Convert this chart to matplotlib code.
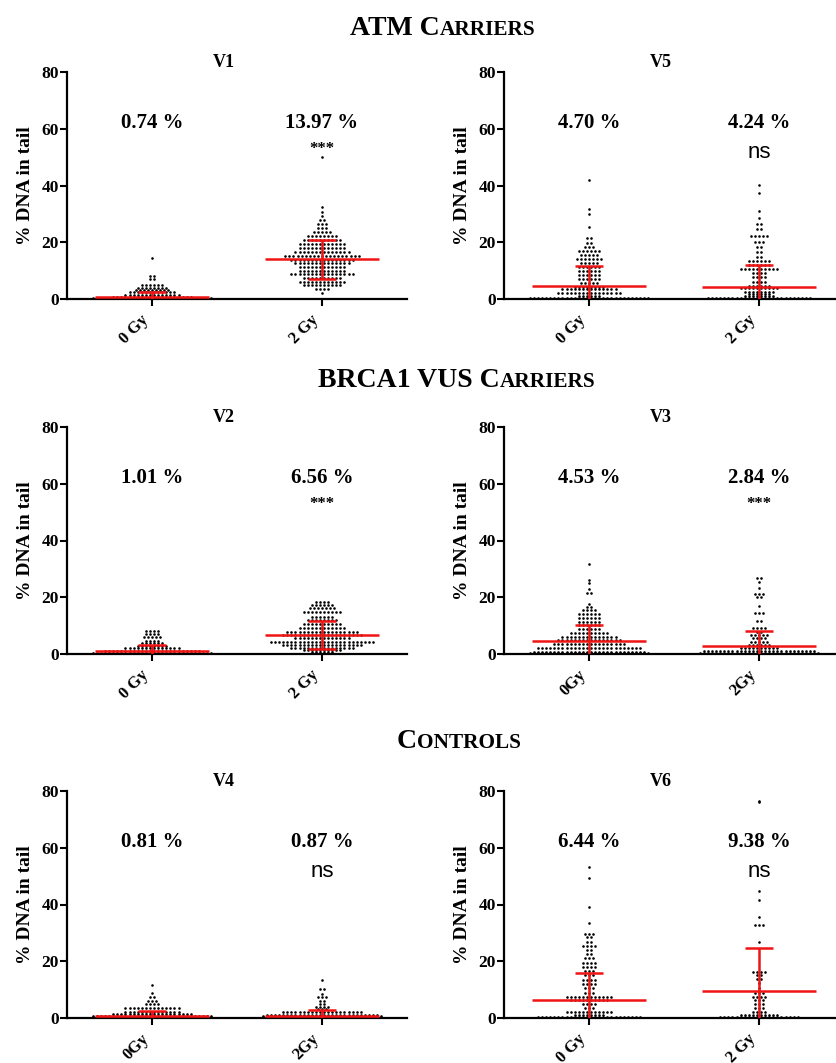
import matplotlib
matplotlib.use("Agg")
import matplotlib.pyplot as plt
from matplotlib.transforms import ScaledTranslation
import numpy as np

# dot rows: level (% DNA in tail) and number of dots in that row
v1_0_lvl = [0.2, 0.8, 1.5, 2.3, 3.2, 4.0, 5.0, 7.0, 8.0, 14.3]
v1_0_n = [30, 20, 14, 12, 9, 8, 6, 2, 2, 1]
v1_2_lvl = [2.2, 3.5, 4.9, 6.1, 7.3, 8.7, 10.0, 11.2, 12.6, 13.9, 15.3, 16.7, 18.1,
            19.4, 20.8, 22.2, 23.5, 24.9, 26.3, 27.9, 29.3, 30.8, 32.5, 49.9]
v1_2_n = [1, 4, 10, 12, 10, 16, 12, 12, 14, 16, 19, 14, 12, 12, 10, 8, 5, 3, 3, 2, 1, 1, 1, 1]

v5_0_lvl = [0.3, 1.1, 2.2, 3.4, 4.3, 5.5, 6.9, 8.4, 9.8, 11.2, 12.6, 14.0, 15.5, 17.0,
            18.4, 19.8, 21.4, 25.5, 29.9, 31.6, 41.9]
v5_0_n = [30, 6, 16, 14, 8, 5, 6, 6, 6, 6, 5, 7, 5, 6, 3, 2, 2, 1, 1, 1, 1]
v5_2_lvl = [0.3, 1.1, 1.8, 2.6, 3.8, 4.7, 6.1, 7.7, 9.1, 10.6, 12.0, 13.4, 14.9, 16.7,
            18.4, 20.2, 22.2, 24.5, 26.4, 28.4, 31.0, 37.5, 40.2]
v5_2_n = [26, 8, 6, 8, 10, 6, 4, 4, 4, 10, 6, 6, 2, 2, 2, 3, 5, 2, 2, 1, 1, 1, 1]

v2_0_lvl = [0.3, 1.0, 2.0, 2.8, 3.8, 4.7, 5.9, 7.0, 8.2]
v2_0_n = [30, 24, 14, 8, 6, 4, 5, 4, 4]
v2_2_lvl = [0.7, 1.4, 2.2, 3.2, 4.3, 5.5, 6.7, 7.7, 9.0, 10.5, 12.0, 13.2, 14.7, 16.1, 17.3, 18.4]
v2_2_n = [6, 10, 16, 20, 26, 14, 20, 18, 12, 10, 8, 6, 10, 7, 6, 4]

v3_0_lvl = [0.2, 0.7, 2.0, 3.4, 4.8, 6.1, 7.5, 8.7, 10.1, 11.4, 12.8, 14.0, 15.4, 16.6,
            17.7, 21.6, 23.0, 25.1, 26.1, 31.6]
v3_0_n = [30, 28, 26, 18, 16, 14, 10, 6, 6, 6, 6, 6, 4, 2, 1, 2, 1, 1, 1, 1]
v3_2_lvl = [0.3, 1.1, 2.2, 3.2, 4.3, 5.5, 6.7, 7.9, 9.1, 11.6, 14.6, 16.9, 20.1, 21.3,
            23.4, 25.5, 26.7]
v3_2_n = [30, 28, 10, 6, 5, 4, 5, 2, 4, 2, 3, 1, 2, 3, 1, 1, 2]

v4_0_lvl = [0.2, 0.6, 1.3, 2.2, 3.5, 4.8, 6.0, 7.3, 8.7, 11.6]
v4_0_n = [30, 30, 20, 14, 14, 4, 3, 2, 1, 1]
v4_2_lvl = [0.2, 0.6, 1.2, 2.0, 3.1, 4.0, 4.9, 6.1, 7.3, 8.5, 10.1, 13.4]
v4_2_n = [30, 30, 28, 20, 3, 4, 2, 2, 3, 1, 2, 1]

v6_0_lvl = [0.3, 1.1, 2.2, 3.4, 4.9, 6.3, 7.5, 8.9, 10.5, 12.0, 13.4, 15.2, 16.7, 18.1,
            19.5, 21.0, 22.6, 24.0, 25.5, 26.9, 28.4, 29.6, 33.6, 39.0, 49.2, 53.3]
v6_0_n = [26, 8, 12, 3, 4, 10, 12, 3, 3, 4, 4, 3, 3, 4, 4, 3, 2, 2, 4, 2, 2, 3, 1, 1, 1, 1]
v6_2_lvl = [0.3, 1.1, 2.0, 3.4, 4.9, 6.3, 7.5, 8.7, 10.5, 12.2, 13.7, 15.2, 16.3, 26.9,
            32.8, 35.7, 41.6, 44.9, 76.0, 76.5]
v6_2_n = [20, 10, 4, 3, 3, 3, 4, 3, 1, 1, 2, 2, 4, 1, 3, 1, 1, 1, 1, 1]

# mean and SD (red bars) per panel, plus significance label on 2 Gy
v1_mean, v1_sd, v1_sig = [0.74, 13.97], [1.86, 6.83], "***"
v5_mean, v5_sd, v5_sig = [4.70, 4.24], [6.90, 7.76], "ns"
v2_mean, v2_sd, v2_sig = [1.01, 6.56], [2.20, 4.94], "***"
v3_mean, v3_sd, v3_sig = [4.53, 2.84], [5.67, 5.36], "***"
v4_mean, v4_sd, v4_sig = [0.81, 0.87], [1.60, 1.83], "ns"
v6_mean, v6_sd, v6_sig = [6.44, 9.38], [9.56, 15.40], "ns"

labels_sp = ["0 Gy", "2 Gy"]
labels_ns = ["0Gy", "2Gy"]

SERIF = "Liberation Serif"
RED = "#f01414"

W, H = 837, 1063
fig = plt.figure(figsize=(W / 100, H / 100), dpi=100)


def ax_at(left, top, bottom):
    return fig.add_axes([left / W, 1 - bottom / H, 340 / W, (bottom - top) / H])


def swarm(ax, xc, levels, counts, step=0.024):
    xs, ys = [], []
    for lv, n in zip(levels, counts):
        off = (np.arange(n) - (n - 1) / 2) * step
        xs.extend(xc + off)
        ys.extend([lv] * n)
    ax.scatter(xs, ys, s=3.5, c="black", linewidths=0, clip_on=False, zorder=3)


def panel(ax, title, groups, means, sds, sig, ticklabels):
    for i, (lv, n) in enumerate(groups):
        swarm(ax, i, lv, n)
        m, sd = means[i], sds[i]
        ax.hlines(m, i - 0.335, i + 0.335, color=RED, lw=1.8, zorder=4)
        ax.vlines(i, max(m - sd, 0), m + sd, color=RED, lw=1.8, zorder=4)
        ax.hlines(m + sd, i - 0.085, i + 0.085, color=RED, lw=1.8, zorder=4)
        if m - sd > 0:
            ax.hlines(m - sd, i - 0.085, i + 0.085, color=RED, lw=1.8, zorder=4)
        ax.text(i, 62, f"{m:.2f} %", ha="center", va="center", fontsize=15,
                fontweight="bold", family=SERIF)
    if sig == "ns":
        ax.text(1, 51.5, sig, ha="center", va="center", fontsize=16, family="Liberation Sans")
    else:
        ax.text(1, 53, sig, ha="center", va="center", fontsize=12, fontweight="bold",
                family=SERIF)
    ax.text(0.46, 1.02, title, transform=ax.transAxes, ha="center", va="baseline",
            fontsize=13, fontweight="bold", family=SERIF)

    ax.set_xlim(-0.5, 1.5)
    ax.set_ylim(0, 80)
    ax.set_yticks([0, 20, 40, 60, 80])
    ax.set_xticks([0, 1])
    ax.set_xticklabels(ticklabels, rotation=45, ha="right")
    shift = ScaledTranslation(13 / 100, 0, fig.dpi_scale_trans)
    for t in ax.get_xticklabels():
        t.set_transform(t.get_transform() + shift)
    for t in ax.get_xticklabels() + ax.get_yticklabels():
        t.set_family(SERIF)
        t.set_fontweight("bold")
    ax.tick_params(direction="out", length=5, width=1.5, labelsize=12.5, pad=1)
    ax.tick_params(axis="x", labelsize=12, pad=4)
    ax.set_ylabel("% DNA in tail", fontsize=14, fontweight="bold", family=SERIF, labelpad=5)
    for s in ["top", "right"]:
        ax.spines[s].set_visible(False)
    for s in ["left", "bottom"]:
        ax.spines[s].set_linewidth(1.6)
    ax.patch.set_visible(False)


rows = [(72, 299), (427, 654), (791, 1018)]
specs = [
    (67, rows[0], "V1", [(v1_0_lvl, v1_0_n), (v1_2_lvl, v1_2_n)], v1_mean, v1_sd, v1_sig, labels_sp),
    (504, rows[0], "V5", [(v5_0_lvl, v5_0_n), (v5_2_lvl, v5_2_n)], v5_mean, v5_sd, v5_sig, labels_sp),
    (67, rows[1], "V2", [(v2_0_lvl, v2_0_n), (v2_2_lvl, v2_2_n)], v2_mean, v2_sd, v2_sig, labels_sp),
    (504, rows[1], "V3", [(v3_0_lvl, v3_0_n), (v3_2_lvl, v3_2_n)], v3_mean, v3_sd, v3_sig, labels_ns),
    (67, rows[2], "V4", [(v4_0_lvl, v4_0_n), (v4_2_lvl, v4_2_n)], v4_mean, v4_sd, v4_sig, labels_ns),
    (504, rows[2], "V6", [(v6_0_lvl, v6_0_n), (v6_2_lvl, v6_2_n)], v6_mean, v6_sd, v6_sig, labels_sp),
]
for left, (top, bottom), title, groups, means, sds, sig, tl in specs:
    panel(ax_at(left, top, bottom), title, groups, means, sds, sig, tl)


# section headings in small caps: pieces chained along one baseline
def heading(x_px, base_px, pieces):
    y = 1 - base_px / H
    prev = fig.text(x_px / W, y, pieces[0][0], fontsize=pieces[0][1], fontweight="bold",
                    family=SERIF, va="baseline", ha="left")
    for txt, size in pieces[1:]:
        prev = fig.add_artist(plt.Annotation(txt, xy=(1, y), xycoords=(prev, "figure fraction"),
                                             fontsize=size, fontweight="bold", family=SERIF,
                                             va="baseline", ha="left"))


heading(350, 35, [("ATM C", 20), ("ARRIERS", 15.3)])
heading(318, 387, [("BRCA1 VUS C", 20), ("ARRIERS", 15.3)])
heading(397, 748, [("C", 20), ("ONTROLS", 15.3)])

fig.savefig("out.png", dpi=100)
